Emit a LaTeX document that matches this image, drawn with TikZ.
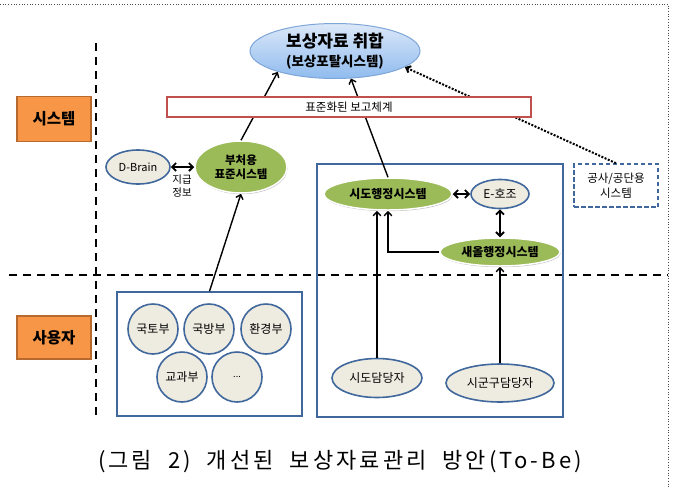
\documentclass[tikz,border=0pt]{standalone}
\usepackage{fontspec}
\setmainfont{Noto Sans CJK KR}
\newfontfamily\capfont[LetterSpace=14,WordSpace=2]{Noto Sans CJK KR}
\usetikzlibrary{arrows.meta,shapes.geometric,shadows}
\definecolor{orng}{HTML}{F79646}
\definecolor{orngd}{HTML}{B8692E}
\definecolor{grn}{HTML}{9BBB59}
\definecolor{beige}{HTML}{EEECE1}
\definecolor{bblue}{HTML}{41689C}
\definecolor{rred}{HTML}{C0504D}
\definecolor{ltop}{HTML}{DCE8F9}
\definecolor{lbot}{HTML}{8FBBEE}
\definecolor{tborder}{HTML}{7EA6D8}
\begin{document}
\begin{tikzpicture}[x=1pt,y=-1pt,
  lab/.style={draw=orngd, fill=orng, line width=1.5pt, minimum width=74pt, inner sep=0pt,
    font=\fontsize{15.5}{18}\selectfont\bfseries},
  grnell/.style={ellipse, fill=grn, draw=white, line width=1.5pt, inner sep=0pt, align=center,
    drop shadow={shadow xshift=0.6pt, shadow yshift=-1.2pt, opacity=0.25, fill=black}},
  begell/.style={ellipse, fill=beige, draw=bblue, line width=1.6pt, inner sep=0pt, align=center,
    font=\fontsize{12}{14}\selectfont},
  circ/.style={circle, fill=beige, draw=bblue, line width=1.6pt, minimum size=50pt, inner sep=0pt,
    font=\fontsize{12}{14}\selectfont},
  panel/.style={draw=bblue, line width=1.5pt, inner sep=0pt},
  arr/.style={-{Straight Barb[length=4pt,width=7.5pt]}, line width=1.4pt},
  darr/.style={{Straight Barb[length=4pt,width=8pt]}-{Straight Barb[length=4pt,width=8pt]}, line width=1.8pt},
  dashln/.style={dash pattern=on 8pt off 6pt, line width=1.8pt},
  dotarr/.style={-{Straight Barb[length=4pt,width=7pt]}, line width=2pt, dash pattern=on 2pt off 1.5pt}
]
\useasboundingbox[fill=white] (0,0) rectangle (675,488);
% frame
\draw[dotted, line width=0.7pt, black!70] (0,4) -- (668,4) -- (668,488);
% separators
\draw[dashln] (96,43) -- (96,420);
\draw[dashln] (9,275) -- (668,275);
% side labels
\node[lab, minimum height=45pt] (sys) at (54,119) {시스템};
\node[lab, minimum height=43pt] (usr) at (54,337.5) {사용자};
% panels
\node[panel, minimum width=185pt, minimum height=124pt] (gov) at (209.5,354) {};
\node[panel, minimum width=246pt, minimum height=253pt] (loc) at (440,290.5) {};
% top ellipse
\node[ellipse, top color=ltop, bottom color=lbot, draw=tborder, line width=1pt,
  minimum width=170pt, minimum height=55pt, inner sep=0pt, align=center,
  font=\fontsize{17}{18.5}\selectfont\bfseries] (top) at (335,51)
  {보상자료 취합\\{\fontsize{13.5}{18.5}\selectfont (보상포탈시스템)}};
% system nodes
\node[begell, minimum width=64pt, minimum height=34pt, font=\fontsize{11}{13}\selectfont] (dbrain) at (138,167) {D-Brain};
\node[grnell, minimum width=92pt, minimum height=52pt, font=\fontsize{11.5}{14}\selectfont\bfseries] (bc) at (241,167) {부처용\\표준시스템};
\node[align=center, inner sep=0pt, font=\fontsize{10.5}{13}\selectfont] (jg) at (182,186.5) {지급\\정보};
\node[grnell, minimum width=128pt, minimum height=32pt, font=\fontsize{12}{14}\selectfont\bfseries] (sido) at (388,194) {시도행정시스템};
\node[begell, minimum width=58pt, minimum height=29pt] (ehojo) at (500,194) {E-호조};
\node[grnell, minimum width=120pt, minimum height=28pt, font=\fontsize{12}{14}\selectfont\bfseries] (saeol) at (500,252) {새올행정시스템};
\node[draw=bblue, line width=1.6pt, dash pattern=on 4.5pt off 2.5pt, minimum width=84pt, minimum height=43pt,
  inner sep=0pt, align=center, font=\fontsize{11.5}{15}\selectfont] (gs) at (616,185.5) {공사/공단용\\시스템};
% user nodes
\node[circ] (c1) at (153,329) {국토부};
\node[circ] (c2) at (209,329) {국방부};
\node[circ] (c3) at (266,329) {환경부};
\node[circ] (c4) at (182,377) {교과부};
\node[circ, font=\fontsize{9}{11}\selectfont] (c5) at (237,377) {...};
\node[begell, minimum width=90pt, minimum height=39pt] (sdd) at (377,378) {시도담당자};
\node[begell, minimum width=108pt, minimum height=38pt] (sgg) at (500,383) {시군구담당자};
% connectors
\draw[arr] (gov.north) -- (bc.south);
\draw[arr] (bc.north) -- (top.200);
\draw[arr] (sido.north) -- (top.300);
\draw[dotarr] (gs.north) -- (top.347);
\draw[darr] (dbrain.east) -- (bc.west);
\draw[darr] (sido.east) -- (ehojo.west);
\draw[darr] (ehojo.south) -- (saeol.north);
\draw[arr] (saeol.west) -| (sido.south);
\draw[arr] (sdd.north) -- (sdd.north |- sido.south);
\draw[arr] (sgg.north) -- (saeol.south);
% standard reporting box (over the connectors)
\node[draw=rred, fill=white, line width=1.5pt, minimum width=364pt, minimum height=20pt, inner sep=0pt,
  font=\fontsize{11.5}{13}\selectfont] (std) at (349,107) {표준화된 보고체계};
% caption
\node[inner sep=0pt, font=\capfont\fontsize{22}{24}\selectfont] (cap) at (340,462)
  {(그림 2) 개선된 보상자료관리 방안(To-Be)};
\end{tikzpicture}
\end{document}
